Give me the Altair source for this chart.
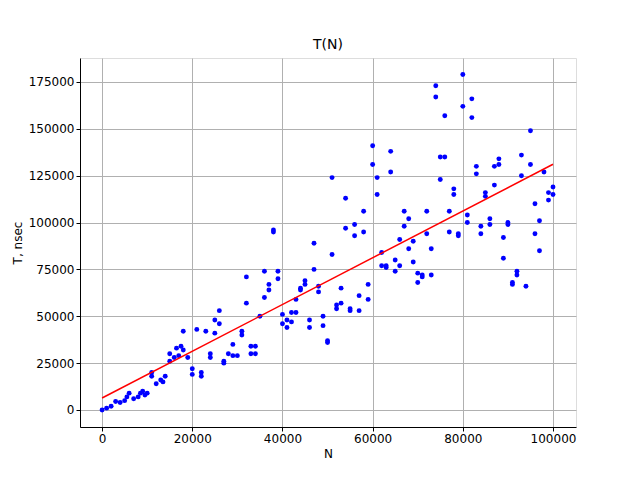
import altair as alt
import pandas as pd

n_values = [0, 1000, 2000, 3000, 4000, 5000, 5500, 6000, 7000, 8000, 8500, 9000, 9500, 10000,
            11000, 11000, 12000, 13000, 13500, 14000, 15000, 15000, 16000, 16500, 17000, 17500,
            18000, 18000, 19000, 20000, 20000, 21000, 22000, 22000, 23000, 24000, 24000, 25000,
            25000, 26000, 26000, 27000, 27000, 28000, 29000, 29000, 30000, 31000, 31000, 32000,
            32000, 33000, 33000, 34000, 34000, 35000, 36000, 36000, 37000, 37000, 38000, 38000,
            39000, 39000, 40000, 40000, 41000, 41000, 42000, 42000, 43000, 43000, 44000, 44000,
            45000, 45000, 46000, 46000, 47000, 47000, 48000, 48000, 49000, 49000, 50000, 50000,
            51000, 51000, 52000, 52000, 53000, 53000, 54000, 54000, 55000, 55000, 56000, 56000,
            57000, 57000, 58000, 58000, 59000, 59000, 60000, 60000, 61000, 61000, 62000, 62000,
            63000, 63000, 64000, 64000, 65000, 65000, 66000, 66000, 67000, 67000, 68000, 68000,
            69000, 69000, 70000, 70000, 71000, 71000, 72000, 72000, 73000, 73000, 74000, 74000,
            75000, 75000, 76000, 76000, 77000, 77000, 78000, 78000, 79000, 79000, 80000, 80000,
            81000, 81000, 82000, 82000, 83000, 83000, 84000, 84000, 85000, 85000, 86000, 86000,
            87000, 87000, 88000, 88000, 89000, 89000, 90000, 90000, 91000, 91000, 92000, 92000,
            93000, 93000, 94000, 95000, 95000, 96000, 96000, 97000, 97000, 98000, 99000, 99000,
            100000, 100000]

t_thousands = [0, 1, 2, 4.5, 4, 5, 7, 9, 6, 7, 9, 10, 8, 9,
               18, 20, 14, 16, 15, 18, 26, 30, 28, 33, 29, 34,
               42, 32, 28, 22, 19, 43, 20, 18, 42, 30, 28, 41,
               48, 46, 53, 26, 25, 30, 29, 35, 29, 40, 42, 71,
               57, 30, 34, 30, 34, 50, 60, 74, 67, 64, 96, 95,
               70, 74, 51, 46, 44, 48, 52, 47, 52, 59, 65, 64,
               69, 67, 48, 44, 89, 75, 66, 63, 50, 45, 37, 36,
               124, 83, 56, 54, 57, 65, 113, 97, 54, 53, 99, 93,
               61, 53, 106, 95, 67, 59, 141, 131, 124, 115, 84, 77,
               77, 76, 138, 127, 80, 74, 77, 91, 106, 98, 102, 86,
               90, 79, 73, 68, 71, 72, 106, 94, 86, 72, 173, 167,
               123, 135, 157, 135, 106, 95, 118, 115, 94, 93, 179, 162,
               104, 100, 166, 156, 130, 126, 98, 94, 116, 114, 102, 99,
               120, 130, 134, 131, 92, 81, 100, 99, 68, 67, 74, 72,
               136, 125, 66, 149, 131, 110, 94, 101, 85, 127, 116, 112,
               119, 115]

df = pd.DataFrame({"N": n_values, "T": [t * 1000 for t in t_thousands]})

xs = alt.Scale(domain=[-4900, 105100], nice=False, zero=False)
ys = alt.Scale(domain=[-9070, 187800], nice=False, zero=False)

ax = dict(grid=True, gridColor="#b0b0b0", domainColor="black", tickColor="black",
          labelColor="black", titleColor="black", labelFontSize=12, titleFontSize=12,
          titleFontWeight="normal", labelFont="DejaVu Sans", titleFont="DejaVu Sans",
          tickSize=4)

points = alt.Chart(df).mark_circle(color="blue", size=24, opacity=1).encode(
    x=alt.X("N:Q", scale=xs, title="N",
            axis=alt.Axis(values=[0, 20000, 40000, 60000, 80000, 100000], format="d", **ax)),
    y=alt.Y("T:Q", scale=ys, title="T, nsec",
            axis=alt.Axis(values=[0, 25000, 50000, 75000, 100000, 125000, 150000, 175000],
                          format="d", **ax)),
)

line = alt.Chart(df).transform_regression("N", "T", extent=[0, 100000]).mark_line(
    color="red", strokeWidth=1.5).encode(x=alt.X("N:Q", scale=xs), y=alt.Y("T:Q", scale=ys))

chart = (points + line).properties(
    width=496, height=369,
    title=alt.Title("T(N)", fontSize=14, fontWeight="normal", font="DejaVu Sans", offset=6),
    autosize=alt.AutoSizeParams(type="none"),
    padding={"left": 72, "top": 50, "right": 50, "bottom": 45},
).configure_view(stroke="black", strokeWidth=1).configure(background="white")

chart.save("out.html", embed_options={"renderer": "svg", "actions": False})
